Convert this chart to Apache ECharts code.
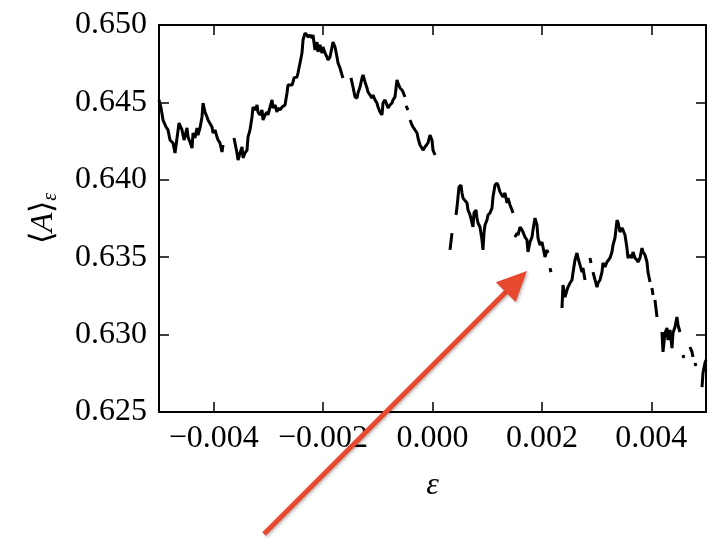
<!DOCTYPE html>
<html>
<head>
<meta charset="utf-8">
<script src="https://cdn.jsdelivr.net/npm/echarts@6/dist/echarts.min.js"></script>
<style>html,body{margin:0;padding:0;background:#fff}#main{width:708px;height:539px}</style>
</head>
<body>
<div id="main"></div>
<script>
// Traced segments of the curve: [epsilon, <A>_epsilon]; gaps between segments
const seg1 = [[-0.005000,0.64516],[-0.004963,0.64464],[-0.004926,0.64386],[-0.004871,0.64341],[-0.004835,0.64322],[-0.004799,0.64257],[-0.004744,0.64238],[-0.004707,0.64173],[-0.004634,0.64367],[-0.004579,0.64322],[-0.004543,0.64257],[-0.004488,0.64335],[-0.004469,0.64276],[-0.004433,0.64244],[-0.004396,0.64205],[-0.004378,0.64302],[-0.004342,0.64270],[-0.004305,0.64335],[-0.004287,0.64289],[-0.004250,0.64335],[-0.004214,0.64406],[-0.004195,0.64496],[-0.004159,0.64438],[-0.004122,0.64406],[-0.004104,0.64386],[-0.004031,0.64341],[-0.004012,0.64302],[-0.003976,0.64322],[-0.003939,0.64276],[-0.003921,0.64257],[-0.003885,0.64238],[-0.003848,0.64180],[-0.003830,0.64225]];
const seg2 = [[-0.003629,0.64270],[-0.003574,0.64173],[-0.003555,0.64128],[-0.003519,0.64173],[-0.003482,0.64212],[-0.003464,0.64141],[-0.003428,0.64173],[-0.003391,0.64192],[-0.003373,0.64276],[-0.003336,0.64322],[-0.003300,0.64406],[-0.003281,0.64470],[-0.003245,0.64451],[-0.003208,0.64483],[-0.003190,0.64438],[-0.003153,0.64419],[-0.003117,0.64451],[-0.003098,0.64386],[-0.003062,0.64419],[-0.003025,0.64438],[-0.003007,0.64419],[-0.002971,0.64470],[-0.002934,0.64516],[-0.002916,0.64464],[-0.002879,0.64483],[-0.002843,0.64438],[-0.002824,0.64464],[-0.002788,0.64451],[-0.002751,0.64470],[-0.002733,0.64464],[-0.002696,0.64483],[-0.002660,0.64561],[-0.002641,0.64612],[-0.002605,0.64612],[-0.002568,0.64612],[-0.002550,0.64632],[-0.002532,0.64658],[-0.002477,0.64664],[-0.002459,0.64690],[-0.002422,0.64755],[-0.002386,0.64819],[-0.002367,0.64903],[-0.002331,0.64948],[-0.002294,0.64935],[-0.002276,0.64922],[-0.002239,0.64935],[-0.002203,0.64916],[-0.002185,0.64935],[-0.002148,0.64839],[-0.002111,0.64890],[-0.002093,0.64826],[-0.002057,0.64871],[-0.002020,0.64819],[-0.002002,0.64858],[-0.001965,0.64819],[-0.001929,0.64793],[-0.001910,0.64774],[-0.001874,0.64793],[-0.001837,0.64858],[-0.001819,0.64890],[-0.001782,0.64858],[-0.001746,0.64793],[-0.001727,0.64755],[-0.001691,0.64722],[-0.001654,0.64677],[-0.001636,0.64658]];
const seg3 = [[-0.001490,0.64658],[-0.001453,0.64599],[-0.001417,0.64535],[-0.001380,0.64528],[-0.001362,0.64561],[-0.001325,0.64599],[-0.001289,0.64658],[-0.001270,0.64677],[-0.001234,0.64632],[-0.001197,0.64593],[-0.001179,0.64567],[-0.001143,0.64548],[-0.001106,0.64528],[-0.001088,0.64548],[-0.001051,0.64516],[-0.001015,0.64496],[-0.000996,0.64470],[-0.000960,0.64438],[-0.000923,0.64419],[-0.000905,0.64496],[-0.000868,0.64516],[-0.000832,0.64483],[-0.000813,0.64464],[-0.000777,0.64483],[-0.000740,0.64496],[-0.000722,0.64516],[-0.000686,0.64535],[-0.000649,0.64645],[-0.000631,0.64625],[-0.000594,0.64593],[-0.000558,0.64580],[-0.000539,0.64567],[-0.000503,0.64535]];
const seg4 = [[-0.000484,0.64477],[-0.000448,0.64451]];
const seg5 = [[-0.000411,0.64386],[-0.000375,0.64354],[-0.000356,0.64341],[-0.000320,0.64322],[-0.000283,0.64302],[-0.000265,0.64270],[-0.000229,0.64225],[-0.000192,0.64205],[-0.000174,0.64192],[-0.000137,0.64212],[-0.000101,0.64205],[-0.000082,0.64238],[-0.000046,0.64289],[-0.000009,0.64257],[0.000009,0.64192],[0.000046,0.64160]];
const seg6 = [[0.000320,0.63547],[0.000356,0.63656]];
const seg7 = [[0.000430,0.63773],[0.000448,0.63824],[0.000484,0.63953],[0.000521,0.63966],[0.000539,0.63915],[0.000558,0.63882],[0.000594,0.63889],[0.000631,0.63850],[0.000649,0.63805],[0.000686,0.63773],[0.000722,0.63721],[0.000740,0.63695],[0.000759,0.63786],[0.000795,0.63805],[0.000813,0.63753],[0.000832,0.63721],[0.000868,0.63695],[0.000905,0.63611],[0.000923,0.63547],[0.000941,0.63656],[0.000960,0.63708],[0.000996,0.63740],[0.001015,0.63773],[0.001051,0.63786],[0.001088,0.63818],[0.001106,0.63889],[0.001143,0.63966],[0.001179,0.63979],[0.001197,0.63966],[0.001234,0.63921],[0.001270,0.63915],[0.001289,0.63889],[0.001325,0.63915],[0.001362,0.63850],[0.001380,0.63882],[0.001417,0.63837],[0.001453,0.63805],[0.001472,0.63786]];
const seg8 = [[0.001508,0.63630],[0.001545,0.63656],[0.001563,0.63643],[0.001600,0.63695],[0.001636,0.63676],[0.001654,0.63663],[0.001691,0.63630],[0.001727,0.63611],[0.001746,0.63534],[0.001782,0.63598],[0.001819,0.63630],[0.001837,0.63676],[0.001874,0.63753],[0.001910,0.63708],[0.001929,0.63624],[0.001965,0.63579],[0.002002,0.63598],[0.002020,0.63566],[0.002057,0.63501],[0.002093,0.63547],[0.002111,0.63527]];
const seg9 = [[0.002148,0.63430],[0.002166,0.63404]];
const seg10 = [[0.002367,0.63172],[0.002386,0.63320],[0.002422,0.63243],[0.002459,0.63288],[0.002477,0.63307],[0.002514,0.63333],[0.002550,0.63353],[0.002568,0.63398],[0.002605,0.63482],[0.002641,0.63527],[0.002660,0.63495],[0.002696,0.63450],[0.002733,0.63404],[0.002751,0.63430],[0.002788,0.63353]];
const seg11 = [[0.002879,0.63495],[0.002897,0.63463]];
const seg12 = [[0.002934,0.63404],[0.002971,0.63353],[0.003007,0.63307],[0.003025,0.63333],[0.003062,0.63353],[0.003098,0.63404],[0.003117,0.63463],[0.003153,0.63437],[0.003190,0.63469],[0.003208,0.63463],[0.003245,0.63495],[0.003281,0.63534],[0.003300,0.63579],[0.003336,0.63624],[0.003373,0.63740],[0.003391,0.63727],[0.003428,0.63663],[0.003446,0.63656],[0.003464,0.63689],[0.003482,0.63676],[0.003519,0.63643],[0.003555,0.63559],[0.003574,0.63495],[0.003610,0.63514],[0.003647,0.63495],[0.003665,0.63534],[0.003702,0.63495],[0.003738,0.63482],[0.003757,0.63469],[0.003793,0.63495],[0.003830,0.63559],[0.003848,0.63534],[0.003885,0.63514],[0.003921,0.63469],[0.003939,0.63404],[0.003976,0.63340]];
const seg13 = [[0.004012,0.63301],[0.004031,0.63256]];
const seg14 = [[0.004067,0.63224],[0.004104,0.63114]];
const seg15 = [[0.004195,0.63017],[0.004214,0.62888],[0.004250,0.63010],[0.004287,0.63043],[0.004305,0.62965],[0.004342,0.63030],[0.004378,0.62913],[0.004396,0.63010],[0.004433,0.63049],[0.004469,0.63114],[0.004488,0.63062],[0.004524,0.63017]];
const seg16 = [[0.004579,0.62868],[0.004597,0.62849]];
const seg17 = [[0.004707,0.62920],[0.004744,0.62888],[0.004762,0.62855]];
const seg18 = [[0.004799,0.62817],[0.004817,0.62797]];
const seg19 = [[0.004927,0.62661],[0.004945,0.62752],[0.004981,0.62817],[0.005000,0.62836]];

const xTicks = [-0.004, -0.002, 0.0, 0.002, 0.004];
const yTicks = [0.625, 0.630, 0.635, 0.640, 0.645, 0.650];
const xRange = [-0.005, 0.005];
const yRange = [0.625, 0.650];
// annotation arrow in data coordinates
const arrowTail = [-0.00308, 0.61712];
const arrowTip = [0.001727, 0.63411];

const segments = [seg1,seg2,seg3,seg4,seg5,seg6,seg7,seg8,seg9,seg10,seg11,seg12,seg13,seg14,seg15,seg16,seg17,seg18,seg19];
const lineData = [];
segments.forEach((s, i) => { if (i) lineData.push(['-', '-']); s.forEach(p => lineData.push(p)); });

const FONT = 'Liberation Serif';
const fmt = v => { const s = Math.abs(v) < 1e-12 ? '0.000' : v.toFixed(3); return s.replace('-', '\u2212'); };
const axisLine = {show: true, onZero: false, lineStyle: {color: '#000', width: 2}};
const tick = vals => ({show: true, inside: true, length: 10, customValues: vals, lineStyle: {color: '#000', width: 1.5}});

const chart = echarts.init(document.getElementById('main'));
chart.setOption({
  animation: false,
  backgroundColor: '#fff',
  grid: {left: 159, right: 2, top: 25, bottom: 127},
  xAxis: [
    {type: 'value', min: xRange[0], max: xRange[1], position: 'bottom',
     axisLine: axisLine, axisTick: tick(xTicks), splitLine: {show: false},
     axisLabel: {customValues: xTicks, formatter: fmt, fontFamily: FONT, fontSize: 32, color: '#000', margin: 11},
     name: 'ε', nameLocation: 'middle', nameGap: 58,
     nameTextStyle: {fontFamily: FONT, fontStyle: 'italic', fontSize: 32, color: '#000'}},
    {type: 'value', min: xRange[0], max: xRange[1], position: 'top',
     axisLine: axisLine, axisTick: tick(xTicks), splitLine: {show: false}, axisLabel: {show: false}}
  ],
  yAxis: [
    {type: 'value', min: yRange[0], max: yRange[1], position: 'left',
     axisLine: axisLine, axisTick: tick(yTicks), splitLine: {show: false},
     axisLabel: {customValues: yTicks, formatter: fmt, fontFamily: FONT, fontSize: 32, color: '#000', margin: 12},
     name: '{b|⟨}{a|A}{b|⟩}{s|ε}', nameLocation: 'middle', nameGap: 98, nameRotate: 90,
     nameTextStyle: {color: '#000', rich: {
       b: {fontFamily: FONT, fontSize: 32, color: '#000', lineHeight: 34},
       a: {fontFamily: FONT, fontStyle: 'italic', fontSize: 32, color: '#000', lineHeight: 34},
       s: {fontFamily: FONT, fontStyle: 'italic', fontSize: 20, color: '#000', lineHeight: 20, verticalAlign: 'bottom'}
     }}},
    {type: 'value', min: yRange[0], max: yRange[1], position: 'right',
     axisLine: axisLine, axisTick: tick(yTicks), splitLine: {show: false}, axisLabel: {show: false}}
  ],
  series: [{
    type: 'line', xAxisIndex: 0, yAxisIndex: 0, data: lineData,
    symbol: 'none', showSymbol: false, connectNulls: false,
    lineStyle: {color: '#000', width: 3}, z: 3
  }]
});

// arrow annotation
const p0 = chart.convertToPixel({xAxisIndex: 0, yAxisIndex: 0}, arrowTail);
const p1 = chart.convertToPixel({xAxisIndex: 0, yAxisIndex: 0}, arrowTip);
const dx = p1[0] - p0[0], dy = p1[1] - p0[1];
const L = Math.sqrt(dx * dx + dy * dy);
const ux = dx / L, uy = dy / L, nx = -uy, ny = ux;
const headLen = 30, halfW = 14;
const bx = p1[0] - ux * headLen, by = p1[1] - uy * headLen;
const RED = '#e6492d';
const shadow = {shadowBlur: 3, shadowOffsetX: 1.5, shadowOffsetY: 1.5, shadowColor: 'rgba(0,0,0,0.25)'};
chart.setOption({
  graphic: [
    {type: 'line', z: 100, shape: {x1: p0[0], y1: p0[1], x2: bx + ux * 2, y2: by + uy * 2},
     style: Object.assign({stroke: RED, lineWidth: 5, lineCap: 'butt'}, shadow)},
    {type: 'polygon', z: 101, shape: {points: [[p1[0], p1[1]], [bx + nx * halfW, by + ny * halfW], [bx - nx * halfW, by - ny * halfW]]},
     style: Object.assign({fill: RED}, shadow)}
  ]
});
</script>
</body>
</html>
